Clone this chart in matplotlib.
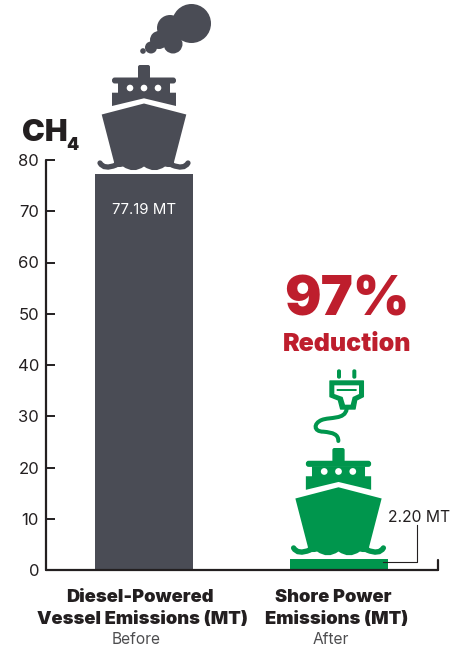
import matplotlib
matplotlib.use('Agg')
from matplotlib import pyplot as plt
from matplotlib.path import Path
from matplotlib.patches import Circle, PathPatch, Polygon, FancyBboxPatch

plt.rcParams['font.family'] = ['Inter', 'Open Sans', 'DejaVu Sans']

categories = ['Diesel-Powered\nVessel Emissions (MT)', 'Shore Power\nEmissions (MT)']
periods = ['Before', 'After']
values = [77.19, 2.20]
value_labels = ['77.19 MT', '2.20 MT']
y_ticks = [0, 10, 20, 30, 40, 50, 60, 70, 80]

GRAY = '#4a4c55'
GREEN = '#00964d'
RED = '#be1e2d'
DARK = '#231f20'
W, H = 470, 648


def rbox(ov, x0, y0, x1, y1, r, color, z=3):
    ov.add_patch(FancyBboxPatch((x0 + r, y0 + r), x1 - x0 - 2 * r, y1 - y0 - 2 * r,
                                boxstyle=f'round,pad={r},rounding_size={r}',
                                fc=color, ec='none', zorder=z))


# ship icon, cx = centre, top = top of the funnel, s = scale
def draw_ship(ov, cx, top, s, color):
    X = lambda v: cx + v * s
    Y = lambda v: top + v * s
    rbox(ov, X(-6), Y(0), X(6), Y(16), 2, color)
    rbox(ov, X(-32), Y(12.5), X(32), Y(18.5), 2.8, color)
    ov.add_patch(Polygon([(X(-26), Y(18)), (X(26), Y(18)), (X(26), Y(27.7)), (X(32), Y(27.7)),
                          (X(32), Y(41)), (X(0), Y(33.3)), (X(-32), Y(41)), (X(-32), Y(27.7)),
                          (X(-26), Y(27.7))], fc=color, ec='none', zorder=3))
    for wx in [-14, 0, 14]:
        ov.add_patch(Circle((X(wx), Y(23)), 3.3 * s, fc='white', ec='none', zorder=4))

    # hull with the scalloped water line as its lower edge
    verts = [(0, 38.5), (42.3, 49.5), (30, 97), (31, 104), (21, 101.5), (10.5, 109), (0, 101.5),
             (-10.5, 109), (-21, 101.5), (-31, 104), (-30, 97), (-42.3, 49.5), (0, 38.5)]
    codes = [Path.MOVETO, Path.LINETO, Path.LINETO, Path.CURVE3, Path.CURVE3, Path.CURVE3, Path.CURVE3,
             Path.CURVE3, Path.CURVE3, Path.CURVE3, Path.CURVE3, Path.LINETO, Path.CLOSEPOLY]
    ov.add_patch(PathPatch(Path([(X(a), Y(b)) for a, b in verts], codes), fc=color, ec='none', zorder=3))

    # hooks at both ends of the water line
    for side in [-1, 1]:
        hook = [(side * 44, 98), (side * 40, 105), (side * 28, 100)]
        ov.add_patch(PathPatch(Path([(X(a), Y(b)) for a, b in hook], [Path.MOVETO, Path.CURVE3, Path.CURVE3]),
                               fc='none', ec=color, lw=3.8 * s, capstyle='round', zorder=3))


def draw_smoke(ov, color):
    for x, y, r in [(143, 51, 2.8), (151, 47.5, 6), (159, 40, 9), (173, 44, 9.5), (170, 28, 13),
                    (165, 38, 9)]:
        ov.add_patch(Circle((x, y), r, fc=color, ec='none', zorder=3))
    ov.add_patch(Circle((191.5, 23.5), 19.5, fc=color, ec='none', zorder=4))


def draw_plug(ov, color):
    X = lambda v: 310 + v / 3
    Y = lambda v: 365 + v / 3
    for zx in [87, 133]:
        rbox(ov, X(zx - 6), Y(13), X(zx + 6), Y(41), 1.8, color)
    outer = [(60, 48), (160, 48), (160, 95), (140, 105), (135, 132), (92, 132), (85, 105), (60, 95)]
    inner = [(73, 61), (147, 61), (147, 87), (128, 96), (122, 119), (105, 119), (98, 96), (73, 87)]
    ov.add_patch(Polygon([(X(a), Y(b)) for a, b in outer], fc=color, ec=color, lw=1, joinstyle='round', zorder=3))
    ov.add_patch(Polygon([(X(a), Y(b)) for a, b in inner], fc='white', ec='none', zorder=4))
    rbox(ov, X(80), Y(72), X(140), Y(78), 0.5, color, z=5)
    cable = [(110, 132), (105, 165), (60, 155), (35, 165), (10, 175), (10, 200), (40, 200),
             (70, 203), (85, 208), (85, 228)]
    codes = [Path.MOVETO] + [Path.CURVE4] * 9
    ov.add_patch(PathPatch(Path([(X(a), Y(b)) for a, b in cable], codes), fc='none', ec=color,
                           lw=2.9, capstyle='round', zorder=3))


fig = plt.figure(figsize=(W / 100, H / 100), dpi=100)

# main axes, pixel box 46..438 / 160..570
ax = fig.add_axes([46 / W, 1 - 570 / H, (438 - 46) / W, (570 - 160) / H])
ax.bar([0, 1], values, width=0.503, color=[GRAY, GREEN], zorder=2)
ax.set_xlim(-0.5026, 1.5077)
ax.set_ylim(0, 80)
ax.set_yticks(y_ticks)
ax.set_xticks([])
ax.tick_params(axis='y', direction='in', length=6.5, width=1.4, color=DARK, labelsize=12,
               labelcolor=DARK, pad=5)
for s in ['top', 'right']:
    ax.spines[s].set_visible(False)
for s in ['left', 'bottom']:
    ax.spines[s].set_linewidth(1.6)
    ax.spines[s].set_color(DARK)
    ax.spines[s].set_capstyle('round')
ax.patch.set_alpha(0)
ax.plot([1.5077, 1.5077], [0, 2], color=DARK, lw=1.6, clip_on=False, solid_capstyle='round', zorder=3)

# overlay in image pixels for the icons and free text
ov = fig.add_axes([0, 0, 1, 1])
ov.set_xlim(0, W)
ov.set_ylim(H, 0)
ov.axis('off')
ov.patch.set_alpha(0)

draw_smoke(ov, GRAY)
draw_ship(ov, 144, 65, 1, GRAY)
draw_ship(ov, 338.5, 448, 1.02, GREEN)
draw_plug(ov, GREEN)

ov.plot([383, 417, 417], [561.5, 561.5, 525], color=DARK, lw=0.8, zorder=6)

ov.text(144, 210, value_labels[0], color='white', fontsize=10.8, ha='center', va='center', zorder=6)
ov.text(419.5, 517, value_labels[1], color=DARK, fontsize=11.3, ha='center', va='center', zorder=6)

ov.text(22, 141, 'CH', color=DARK, fontsize=22, fontweight='black', ha='left', va='baseline')
ov.text(66.5, 150, '4', color=DARK, fontsize=12.5, fontweight='black', ha='left', va='baseline')

ov.text(347, 316, '97%', color=RED, fontsize=39, fontweight='black', ha='center', va='baseline')
ov.text(347, 351, 'Reduction', color=RED, fontsize=18, fontweight='black', ha='center', va='baseline')

label_lines = [categories[0].split('\n'), categories[1].split('\n')]
ov.text(140, 602, label_lines[0][0], color=DARK, fontsize=13.2, fontweight='black', ha='center', va='baseline')
ov.text(142.5, 624, label_lines[0][1], color=DARK, fontsize=13.2, fontweight='black', ha='center', va='baseline')
ov.text(333, 602, label_lines[1][0], color=DARK, fontsize=13.2, fontweight='black', ha='center', va='baseline')
ov.text(337, 624, label_lines[1][1], color=DARK, fontsize=13.2, fontweight='black', ha='center', va='baseline')
ov.text(136.5, 644, periods[0], color='#4d4d4f', fontsize=11.2, ha='center', va='baseline')
ov.text(331, 644, periods[1], color='#4d4d4f', fontsize=11.2, ha='center', va='baseline')

fig.savefig('out.png', dpi=100)
